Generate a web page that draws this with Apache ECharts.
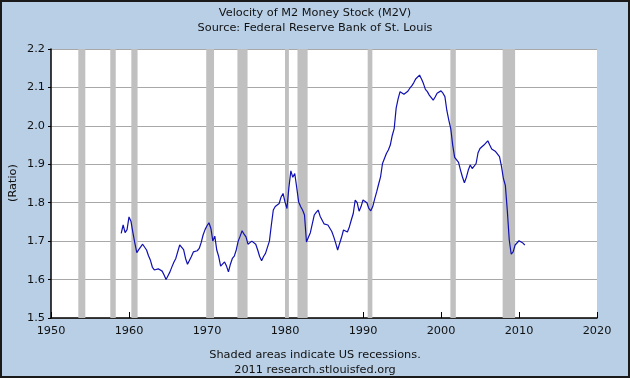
<!DOCTYPE html>
<html>
<head>
<meta charset="utf-8">
<script src="https://cdn.jsdelivr.net/npm/echarts@6/dist/echarts.min.js"></script>
<style>
html,body{margin:0;padding:0;background:#b8cfe6;}
#chart{width:630px;height:378px;}
</style>
</head>
<body>
<div id="chart"></div>
<script>
// Quarterly M2 velocity, starting 1959 Q1
const startYear = 1959;
const m2v = [
  1.72, 1.742, 1.722, 1.73,
  1.763, 1.752, 1.722, 1.695,
  1.67, 1.678, 1.685, 1.692,
  1.688, 1.677, 1.662, 1.65,
  1.632, 1.625, 1.623, 1.628,
  1.633, 1.622, 1.612, 1.60,
  1.61, 1.62, 1.633, 1.645,
  1.655, 1.659, 1.69, 1.685,
  1.678, 1.655, 1.64, 1.635,
  1.66, 1.672, 1.668, 1.675,
  1.681, 1.696, 1.716, 1.73,
  1.74, 1.748, 1.733, 1.70,
  1.713, 1.677, 1.66, 1.635,
  1.64, 1.646, 1.635, 1.62,
  1.64, 1.655, 1.661, 1.677,
  1.70, 1.713, 1.727, 1.718,
  1.711, 1.692, 1.695, 1.70,
  1.704, 1.692, 1.677, 1.66,
  1.649, 1.66, 1.668, 1.67,
  1.70, 1.742, 1.781, 1.79,
  1.795, 1.798, 1.815, 1.824,
  1.802, 1.785, 1.84, 1.883,
  1.866, 1.876, 1.84, 1.802,
  1.79, 1.781, 1.768, 1.698,
  1.71, 1.722, 1.745, 1.768,
  1.775, 1.781, 1.765, 1.755,
  1.745, 1.742, 1.742, 1.742,
  1.725, 1.711, 1.695, 1.677,
  1.694, 1.71, 1.729, 1.724,
  1.724, 1.737, 1.755, 1.772,
  1.807, 1.80, 1.778, 1.79,
  1.807, 1.803, 1.80, 1.785,
  1.779, 1.79, 1.81, 1.828,
  1.848, 1.867, 1.902, 1.915,
  1.928, 1.937, 1.95, 1.975,
  1.993, 2.046, 2.07, 2.089,
  2.085, 2.082, 2.078, 2.09,
  2.098, 2.104, 2.112, 2.122,
  2.125, 2.132, 2.122, 2.11,
  2.095, 2.089, 2.08, 2.075,
  2.067, 2.075, 2.085, 2.08,
  2.091, 2.085, 2.076, 2.04,
  2.015, 1.993, 1.95, 1.918,
  1.92, 1.905, 1.885, 1.867,
  1.852, 1.866, 1.885, 1.898,
  1.889, 1.895, 1.902, 1.93,
  1.941, 1.945, 1.95, 1.955,
  1.961, 1.95, 1.94, 1.935,
  1.933, 1.928, 1.92, 1.895,
  1.863, 1.845, 1.78, 1.703,
  1.666, 1.672, 1.69, 1.695,
  1.701, 1.701, 1.695, 1.69
];
// NBER recessions (start, end) as fractional years
const recessionStart = [1953.5, 1957.6, 1960.3, 1969.9, 1973.9, 1980.0, 1981.6, 1990.6, 2001.2, 2007.9];
const recessionEnd   = [1954.4, 1958.3, 1961.1, 1970.9, 1975.2, 1980.5, 1982.9, 1991.2, 2001.9, 2009.5];
const yTicks = ['1.5','1.6','1.7','1.8','1.9','2.0','2.1','2.2'];
const xTicks = ['1950','1960','1970','1980','1990','2000','2010','2020'];

const seriesData = m2v.map((v, i) => [startYear + i * 0.25, v]);
const bands = recessionStart.map((s, i) => [{xAxis: s}, {xAxis: recessionEnd[i]}]);

const font = '"DejaVu Sans", Verdana, sans-serif';
const fs = 11.3;
const tStyle = {fontSize: fs, fontWeight: 'normal', color: '#111', fontFamily: font};
const chart = echarts.init(document.getElementById('chart'));
chart.setOption({
  backgroundColor: '#b8cfe6',
  animation: false,
  textStyle: {fontFamily: font},
  title: [
    {text: 'Velocity of M2 Money Stock (M2V)', left: 'center', top: 3, textStyle: tStyle},
    {text: 'Source: Federal Reserve Bank of St. Louis', left: 'center', top: 18, textStyle: tStyle},
    {text: 'Shaded areas indicate US recessions.', left: 'center', top: 345, textStyle: tStyle},
    {text: '2011 research.stlouisfed.org', left: 'center', top: 360, textStyle: tStyle}
  ],
  graphic: [
    {type: 'rect', shape: {x: 1, y: 1, width: 628, height: 376},
     style: {fill: null, stroke: '#1a1a1a', lineWidth: 2}, z: 100},
    {type: 'text', x: 13, y: 183, rotation: Math.PI / 2,
     style: {text: '(Ratio)', fill: '#111', font: fs + 'px ' + font, textAlign: 'center', textVerticalAlign: 'middle'}}
  ],
  grid: {left: 51, right: 33, top: 49, bottom: 60, show: true, backgroundColor: '#ffffff', borderWidth: 0},
  xAxis: {
    type: 'value', min: 1950, max: 2020, interval: 10,
    axisLine: {show: true, onZero: false, lineStyle: {color: '#000', width: 1.5}},
    axisTick: {show: true, inside: true, length: 6, lineStyle: {color: '#000'}},
    axisLabel: {color: '#111', fontSize: fs, margin: 8, fontFamily: font,
      formatter: v => xTicks[Math.round((v - 1950) / 10)]},
    splitLine: {show: false}
  },
  yAxis: {
    type: 'value', min: 1.5, max: 2.2, interval: 0.1,
    axisLine: {show: true, lineStyle: {color: '#000', width: 1.5}},
    axisTick: {show: true, inside: false, length: 3, lineStyle: {color: '#000'}},
    axisLabel: {color: '#111', fontSize: fs, margin: 6, fontFamily: font,
      formatter: v => yTicks[Math.round((v - 1.5) * 10)]},
    splitLine: {show: true, lineStyle: {color: '#a8a8a8', width: 1}}
  },
  series: [{
    type: 'line',
    data: seriesData,
    showSymbol: false,
    lineStyle: {color: '#1010b0', width: 1.2},
    itemStyle: {color: '#1010b0'},
    z: 5,
    markArea: {
      silent: true,
      itemStyle: {color: '#c0c0c0', opacity: 1},
      data: bands
    }
  }]
});
</script>
</body>
</html>
